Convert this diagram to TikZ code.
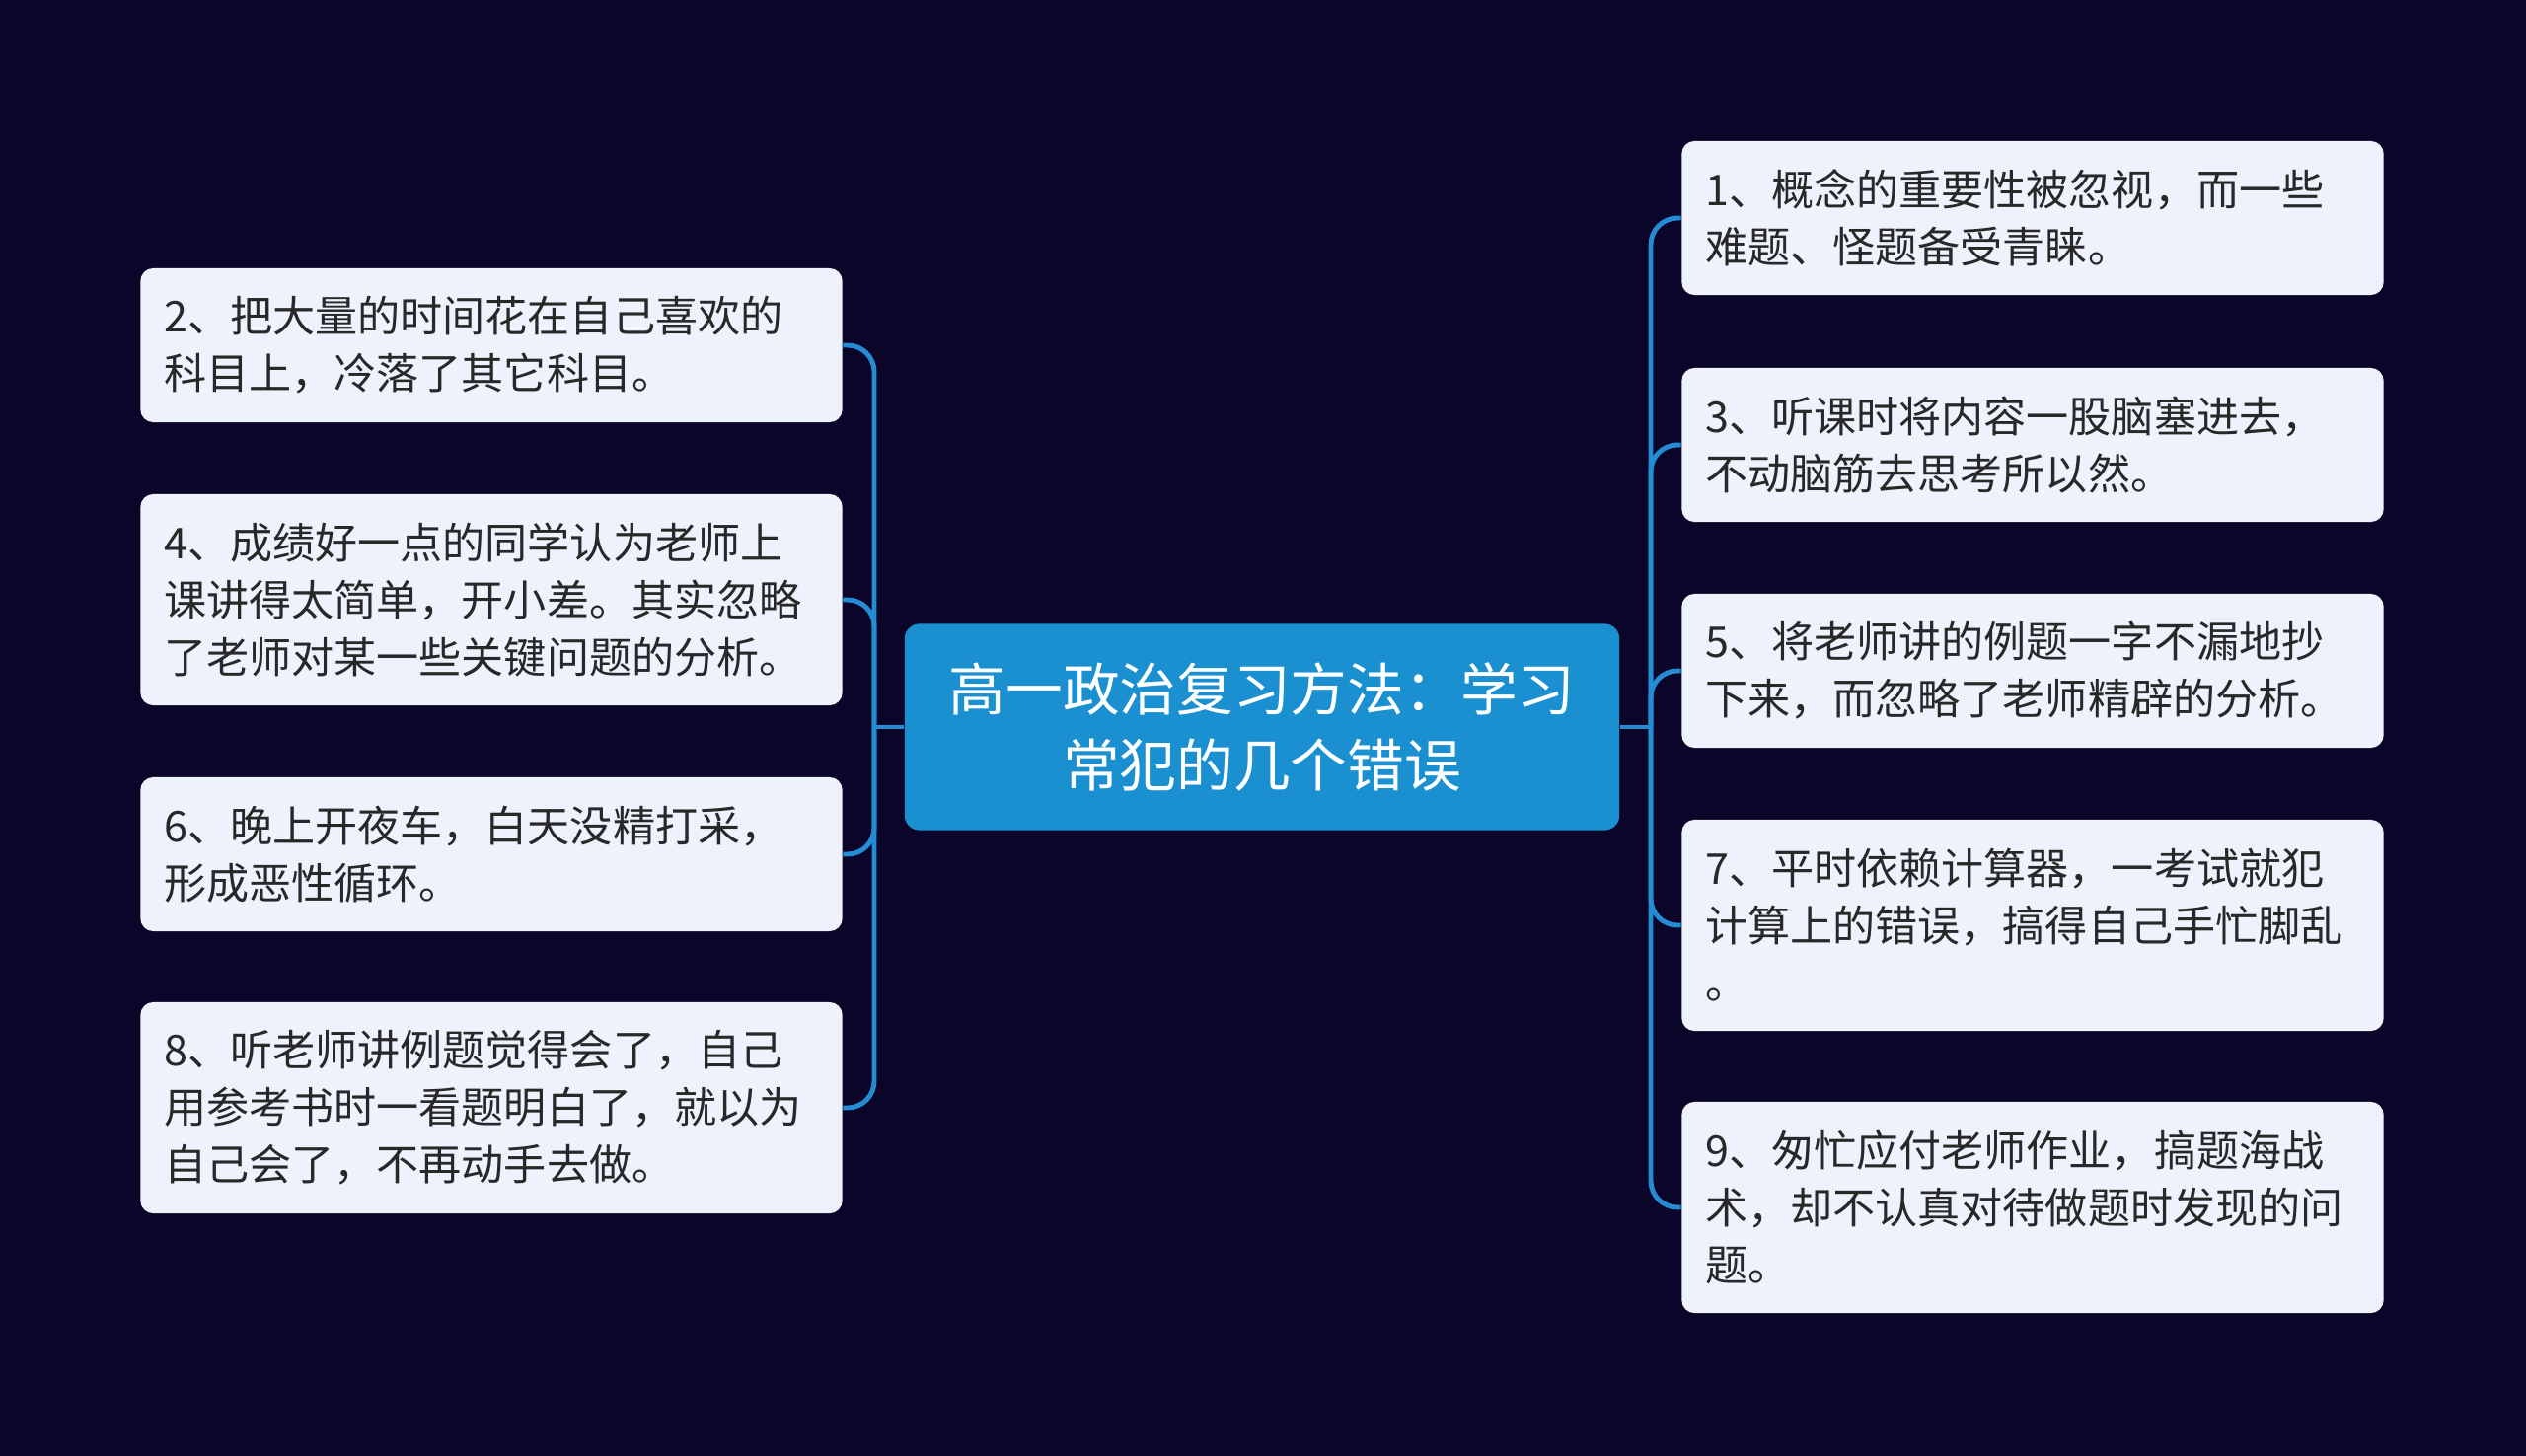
\documentclass[tikz,border=0pt]{standalone}
\usepackage{fontspec}
\setmainfont{Noto Sans CJK SC}
\definecolor{bg}{RGB}{10,5,41}
\definecolor{topicblue}{RGB}{26,144,209}
\definecolor{leafbg}{RGB}{237,242,253}
\definecolor{leaftext}{RGB}{40,40,40}
\definecolor{linkblue}{RGB}{35,140,210}
\tikzset{
	leaf/.style={fill=leafbg, rounded corners=0.13cm, text=leaftext, text width=6.63cm,
		inner xsep=0.24cm, inner ysep=0pt, align=left, font=\fontsize{12.25pt}{16.5pt}\selectfont},
	topic/.style={fill=topicblue, rounded corners=0.15cm, text=white, minimum width=7.24cm,
		minimum height=2.09cm, align=center, font=\fontsize{16.4pt}{21.8pt}\selectfont},
	link/.style={draw=linkblue, line width=1.4pt, rounded corners=0.27cm},
}
\begin{document}
\begin{tikzpicture}[x=0.01cm,y=-0.01cm]
			\fill[bg] (0,0) rectangle (2560,1476);%背景
			\useasboundingbox (0,0) rectangle (2560,1476);
			\node[topic] (ctr) at (1279,737) {高一政治复习方法：学习\\常犯的几个错误};
			% 右侧
			\node[leaf, minimum height=1.56cm] (r1) at (2060,221) {1、概念的重要性被忽视，而一些\\难题、怪题备受青睐。};
			\node[leaf, minimum height=1.56cm] (r3) at (2060,451) {3、听课时将内容一股脑塞进去，\\不动脑筋去思考所以然。};
			\node[leaf, minimum height=1.56cm] (r5) at (2060,680) {5、将老师讲的例题一字不漏地抄\\下来，而忽略了老师精辟的分析。};
			\node[leaf, minimum height=2.14cm] (r7) at (2060,938) {7、平时依赖计算器，一考试就犯\\计算上的错误，搞得自己手忙脚乱\\。};
			\node[leaf, minimum height=2.14cm] (r9) at (2060,1224) {9、匆忙应付老师作业，搞题海战\\术，却不认真对待做题时发现的问\\题。};
			% 左侧
			\node[leaf, minimum height=1.56cm] (l2) at (498,350) {2、把大量的时间花在自己喜欢的\\科目上，冷落了其它科目。};
			\node[leaf, minimum height=2.14cm] (l4) at (498,608) {4、成绩好一点的同学认为老师上\\课讲得太简单，开小差。其实忽略\\了老师对某一些关键问题的分析。};
			\node[leaf, minimum height=1.56cm] (l6) at (498,866) {6、晚上开夜车，白天没精打采，\\形成恶性循环。};
			\node[leaf, minimum height=2.14cm] (l8) at (498,1123) {8、听老师讲例题觉得会了，自己\\用参考书时一看题明白了，就以为\\自己会了，不再动手去做。};
			% 连线
			\coordinate (jr) at (1673,737);
			\coordinate (jl) at (886,737);
			\draw[link] (ctr.east) -- (jr);
			\draw[link] (ctr.west) -- (jl);
			\foreach \n in {r1,r3,r5,r7,r9}
				\draw[link] (jr) |- (\n.west);
			\foreach \n in {l2,l4,l6,l8}
				\draw[link] (jl) |- (\n.east);
		\end{tikzpicture}
\end{document}
